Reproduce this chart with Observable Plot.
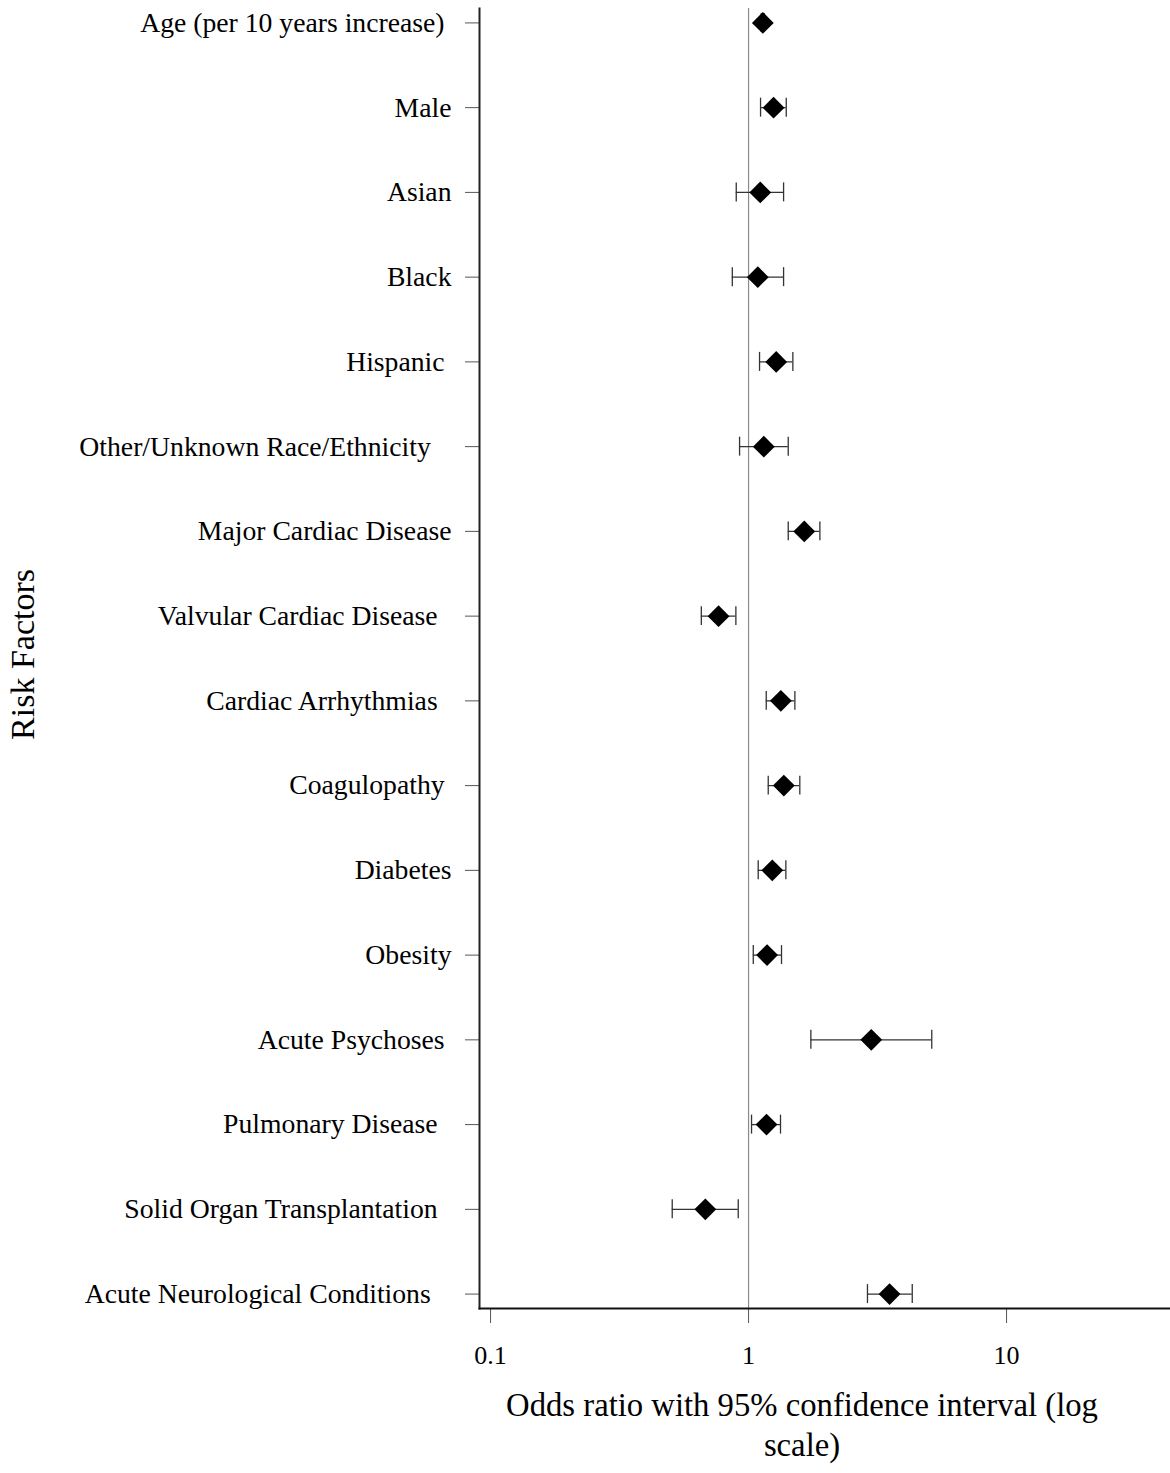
<!DOCTYPE html>
<html><head><meta charset="utf-8">
<script src="https://cdn.jsdelivr.net/npm/d3@7"></script>
<script src="https://cdn.jsdelivr.net/npm/@observablehq/plot@0.6"></script>
<style>
body{margin:0;background:#fff;}
#chart{width:1170px;}
#xtitle{font-family:"Liberation Serif",serif;font-size:32.7px;line-height:40px;text-align:center;width:700px;margin-left:452px;margin-top:5px;color:#000;}
</style></head><body>
<div id="chart"></div>
<div id="xtitle">Odds ratio with 95% confidence interval (log<br>scale)</div>
<script>
// Risk factors (top to bottom), trailing spaces as in the source labels
const labels = [
  "Age (per 10 years increase) ",
  "Male",
  "Asian",
  "Black",
  "Hispanic ",
  "Other/Unknown Race/Ethnicity   ",
  "Major Cardiac Disease",
  "Valvular Cardiac Disease  ",
  "Cardiac Arrhythmias  ",
  "Coagulopathy ",
  "Diabetes",
  "Obesity",
  "Acute Psychoses ",
  "Pulmonary Disease  ",
  "Solid Organ Transplantation  ",
  "Acute Neurological Conditions   "
];
const odds  = [1.136, 1.25, 1.11, 1.086, 1.28, 1.146, 1.644, 0.765, 1.334, 1.37, 1.236, 1.18, 2.99, 1.174, 0.68, 3.52];
const lower = [1.12, 1.113, 0.896, 0.865, 1.103, 0.923, 1.425, 0.656, 1.171, 1.192, 1.09, 1.043, 1.744, 1.027, 0.506, 2.89];
const upper = [1.15, 1.40, 1.367, 1.367, 1.485, 1.425, 1.89, 0.893, 1.512, 1.58, 1.395, 1.342, 5.13, 1.33, 0.912, 4.31];
const xTicks = [0.1, 1, 10];
const xTickLabels = ["0.1", "1", "10"];
const xDomain = [0.0906, 43.2];
const refValue = [1];

const data = labels.map((name, i) => ({name, or: odds[i], lo: lower[i], hi: upper[i]}));

const diamond = {
  draw(ctx, size) {
    const h = Math.sqrt(size / Math.PI);
    ctx.moveTo(0, -h); ctx.lineTo(h, 0); ctx.lineTo(0, h); ctx.lineTo(-h, 0); ctx.closePath();
  }
};

const plot = Plot.plot({
  width: 1170, height: 1380,
  marginLeft: 479, marginRight: 0, marginTop: 8, marginBottom: 72,
  style: {fontFamily: "Liberation Serif", fontSize: "27.7px", color: "#000", background: "#fff"},
  x: {type: "log", domain: xDomain},
  y: {type: "band", domain: labels, paddingInner: 0.776, paddingOuter: 0.058, round: false},
  marks: [
    Plot.ruleX(refValue, {stroke: "#8a8a8a", strokeWidth: 1.2}),
    Plot.ruleY(data, {y: "name", x1: "lo", x2: "hi", stroke: "#333", strokeWidth: 1.3}),
    Plot.tickX(data, {x: "lo", y: "name", stroke: "#333", strokeWidth: 1.3}),
    Plot.tickX(data, {x: "hi", y: "name", stroke: "#333", strokeWidth: 1.3}),
    Plot.dot(data, {x: "or", y: "name", r: 10.9, symbol: diamond, fill: "#000", stroke: "none"}),
    Plot.axisY({
      tickSize: 14, tickPadding: 14, fontSize: 27.7, stroke: "#555", fill: "#000",
      tickFormat: d => d.replace(/ +$/, m => "\u00a0".repeat(m.length)),
      label: null
    }),
    Plot.axisX({
      ticks: xTicks, tickSize: 15, tickPadding: 22, fontSize: 26, stroke: "#555", fill: "#000",
      tickFormat: d => xTickLabels[xTicks.indexOf(d)], label: null
    }),
    Plot.frame({anchor: "left", stroke: "#222", strokeWidth: 2}),
    Plot.frame({anchor: "bottom", stroke: "#111", strokeWidth: 2}),
    Plot.text(["Risk Factors"], {frameAnchor: "left", rotate: -90, dx: -456, dy: -4, textAnchor: "middle", fontSize: 34, fill: "#000"})
  ]
});
document.getElementById("chart").appendChild(plot);
</script>
</body></html>
